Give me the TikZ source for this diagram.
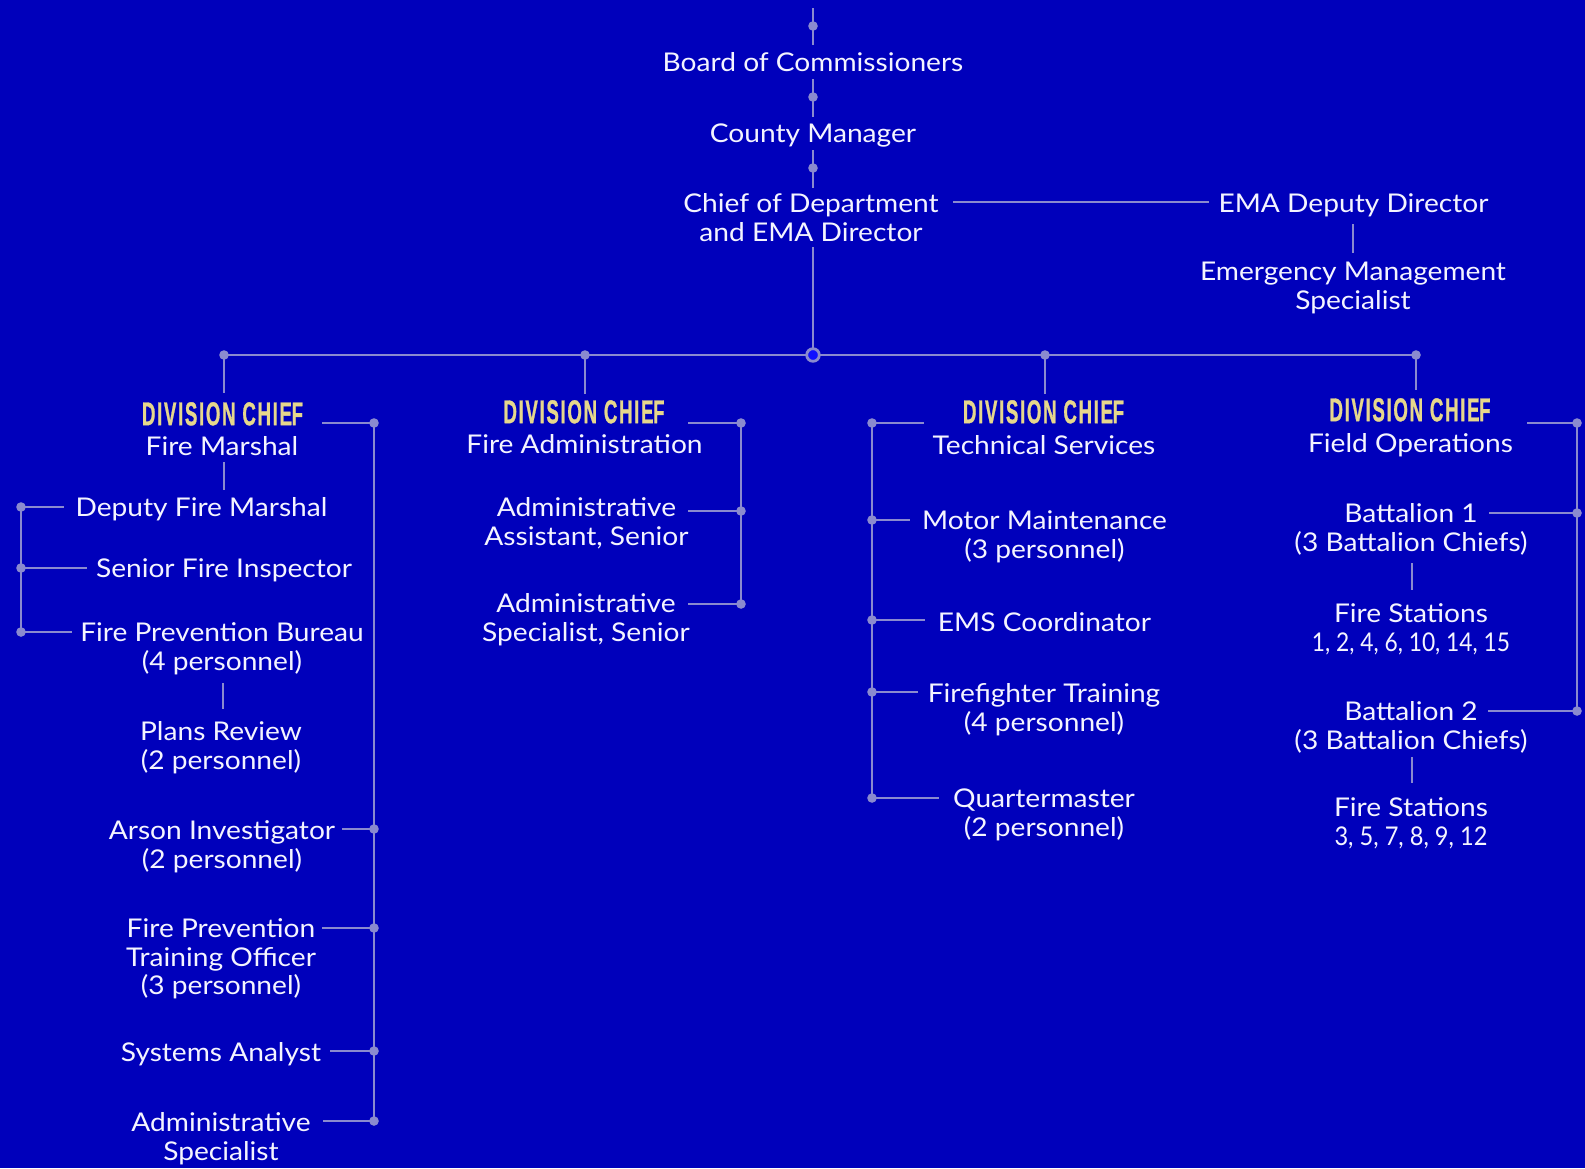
\documentclass[tikz,border=0pt]{standalone}
\usepackage{fontspec}
\usepackage{graphicx}
\setmainfont{Lato}[FakeStretch=1.09]
\IfFontExistsTF{Liberation Sans Narrow Bold}{\newfontfamily\condfont{Liberation Sans Narrow Bold}[LetterSpace=9,FakeBold=1.2]}{\newfontfamily\condfont{Liberation Sans Bold}[LetterSpace=9,FakeBold=1.2]}
\definecolor{bg}{HTML}{0000BB}
\definecolor{lc}{HTML}{8A8ACF}
\definecolor{tc}{HTML}{F4F4FF}
\definecolor{dy}{HTML}{E6D78C}
\definecolor{hubfill}{HTML}{1010FF}
\newcommand{\ml}[1]{\begin{tabular}[t]{@{}c@{}}#1\end{tabular}}
\newcommand{\divchief}{\resizebox{161pt}{23pt}{\condfont DIVISION CHIE\kern-0.2pt F}}
\tikzset{
  ln/.style={draw=lc, line width=2.8pt},
  txt/.style={text=tc, inner sep=0pt, anchor=base, yshift=-9.25pt,
    font=\fontsize{25.8}{28.8}\selectfont},
  divc/.style={text=dy, inner sep=0pt, anchor=north},
}
\begin{document}
\begin{tikzpicture}[x=1pt,y=-1pt]
\fill[bg] (0,0) rectangle (1585,1168);
\useasboundingbox (0,0) rectangle (1585,1168);

% ---------- top chain ----------
\node[txt] (boc) at (813,62.5) {Board of Commissioners};
\node[txt] (cm) at (813,133) {County Manager};
\node[txt] (chief) at (811,203) {\ml{Chief of Department\\and EMA Director}};
\node[txt] (ema) at (1353.5,203) {EMA Deputy Director};
\node[txt] (emspec) at (1353,271) {\ml{Emergency Management\\Specialist}};

\coordinate (t0) at (813,8);   \coordinate (t1) at (813,45);
\coordinate (t2) at (813,79);  \coordinate (t3) at (813,117);
\coordinate (t4) at (813,150); \coordinate (t5) at (813,188);
\coordinate (t6) at (813,247); \coordinate (hub) at (813,355);
\coordinate (c1) at (953,202); \coordinate (c2) at (1209,202);
\coordinate (e1) at (1353,224); \coordinate (e2) at (1353,253);
\draw[ln] (t0) -- (t1);
\draw[ln] (t2) -- (t3);
\draw[ln] (t4) -- (t5);
\draw[ln] (t6) -- (hub);
\draw[ln] (c1) -- (c2);
\draw[ln] (e1) -- (e2);

% ---------- bus ----------
\coordinate (b1) at (224,355); \coordinate (b2) at (585,355);
\coordinate (b3) at (1045,355); \coordinate (b4) at (1416,355);
\coordinate (d1) at (224,393); \coordinate (d2) at (585,394);
\coordinate (d3) at (1045,394); \coordinate (d4) at (1416,390);
\draw[ln] (b1) -- (b4);
\draw[ln] (b1) -- (d1);
\draw[ln] (b2) -- (d2);
\draw[ln] (b3) -- (d3);
\draw[ln] (b4) -- (d4);

% ---------- division chiefs ----------
\node[divc] (dc1) at (222.5,402) {\divchief};
\node[divc] (dc2) at (584,400) {\divchief};
\node[divc] (dc3) at (1043.5,400) {\divchief};
\node[divc] (dc4) at (1410,398) {\divchief};

% ---------- column 1 ----------
\node[txt] (fm) at (222,446) {Fire Marshal};
\node[txt] (dfm) at (201.5,507) {Deputy Fire Marshal};
\node[txt] (sfi) at (224,568) {Senior Fire Inspector};
\node[txt] (fpb) at (222,632) {\ml{Fire Prevention Bureau\\(4 personnel)}};
\node[txt] (pr) at (221,731) {\ml{Plans Review\\(2 personnel)}};
\node[txt] (ai) at (222,830) {\ml{Arson Investigator\\(2 personnel)}};
\node[txt] (fpto) at (221,928) {\ml{Fire Prevention\\Training Officer\\(3 personnel)}};
\node[txt] (sa) at (221,1052) {Systems Analyst};
\node[txt] (asp) at (221,1122) {\ml{Administrative\\Specialist}};

\draw[ln] (224,462) coordinate (f1) -- (224,490) coordinate (f2);
\draw[ln] (21,507) coordinate (l1) -- (21,632) coordinate (l3);
\draw[ln] (l1) -- (64,507) coordinate (l1e);
\draw[ln] (21,568) coordinate (l2) -- (87,568) coordinate (l2e);
\draw[ln] (l3) -- (72,632) coordinate (l3e);
\draw[ln] (223,683) coordinate (p1) -- (223,709) coordinate (p2);
\draw[ln] (374,423) coordinate (r1) -- (374,1121) coordinate (r5);
\draw[ln] (322,423) coordinate (r1s) -- (r1);
\draw[ln] (342,829) coordinate (r2s) -- (374,829) coordinate (r2);
\draw[ln] (322,928) coordinate (r3s) -- (374,928) coordinate (r3);
\draw[ln] (330,1051) coordinate (r4s) -- (374,1051) coordinate (r4);
\draw[ln] (323,1121) coordinate (r5s) -- (r5);

% ---------- column 2 ----------
\node[txt] (fa) at (584.5,444) {Fire Administration};
\node[txt] (aas) at (586.5,507) {\ml{Administrative\\Assistant, Senior}};
\node[txt] (ass) at (586,603) {\ml{Administrative\\Specialist, Senior}};
\draw[ln] (741,423) coordinate (m1) -- (741,604) coordinate (m3);
\draw[ln] (688,423) coordinate (m1s) -- (m1);
\draw[ln] (688,511) coordinate (m2s) -- (741,511) coordinate (m2);
\draw[ln] (688,604) coordinate (m3s) -- (m3);

% ---------- column 3 ----------
\node[txt] (ts) at (1044,445) {Technical Services};
\node[txt] (mm) at (1044.5,520) {\ml{Motor Maintenance\\(3 personnel)}};
\node[txt] (emsc) at (1044.5,622) {EMS Coordinator};
\node[txt] (ft) at (1044,693) {\ml{Firefighter Training\\(4 personnel)}};
\node[txt] (qm) at (1044,798) {\ml{Quartermaster\\(2 personnel)}};
\draw[ln] (872,423) coordinate (k1) -- (872,798) coordinate (k5);
\draw[ln] (k1) -- (924,423) coordinate (k1e);
\draw[ln] (872,520) coordinate (k2) -- (910,520) coordinate (k2e);
\draw[ln] (872,620) coordinate (k3) -- (925,620) coordinate (k3e);
\draw[ln] (872,692) coordinate (k4) -- (918,692) coordinate (k4e);
\draw[ln] (k5) -- (939,798) coordinate (k5e);

% ---------- column 4 ----------
\node[txt] (fo) at (1410.5,443) {Field Operations};
\node[txt] (bat1) at (1411,513) {\ml{Battalion 1\\(3 Battalion Chiefs)}};
\node[txt] (fs1) at (1411,613) {\ml{Fire Stations\\\scalebox{0.81}[1]{1, 2, 4, 6, 10, 14, 15}}};
\node[txt] (bat2) at (1411,711) {\ml{Battalion 2\\(3 Battalion Chiefs)}};
\node[txt] (fs2) at (1411,807) {\ml{Fire Stations\\\scalebox{0.84}[1]{3, 5, 7, 8, 9, 12}}};
\draw[ln] (1577,423) coordinate (q1) -- (1577,711) coordinate (q3);
\draw[ln] (1527,423) coordinate (q1s) -- (q1);
\draw[ln] (1489,513) coordinate (q2s) -- (1577,513) coordinate (q2);
\draw[ln] (1488,711) coordinate (q3s) -- (q3);
\draw[ln] (1412,563) coordinate (v1) -- (1412,590) coordinate (v2);
\draw[ln] (1412,757) coordinate (v3) -- (1412,783) coordinate (v4);

% ---------- dots ----------
\foreach \c in {b1,b2,b3,b4,l1,l2,l3,r1,r2,r3,r4,r5,m1,m2,m3,k1,k2,k3,k4,k5,q1,q2,q3}
  \fill[lc] (\c) circle (4.8);
\fill[lc] (813,26) circle (4.8);
\fill[lc] (813,97) circle (4.8);
\fill[lc] (813,168) circle (4.8);
\filldraw[fill=hubfill, draw=lc, line width=2.8pt] (hub) circle (6.3);
\end{tikzpicture}
\end{document}
